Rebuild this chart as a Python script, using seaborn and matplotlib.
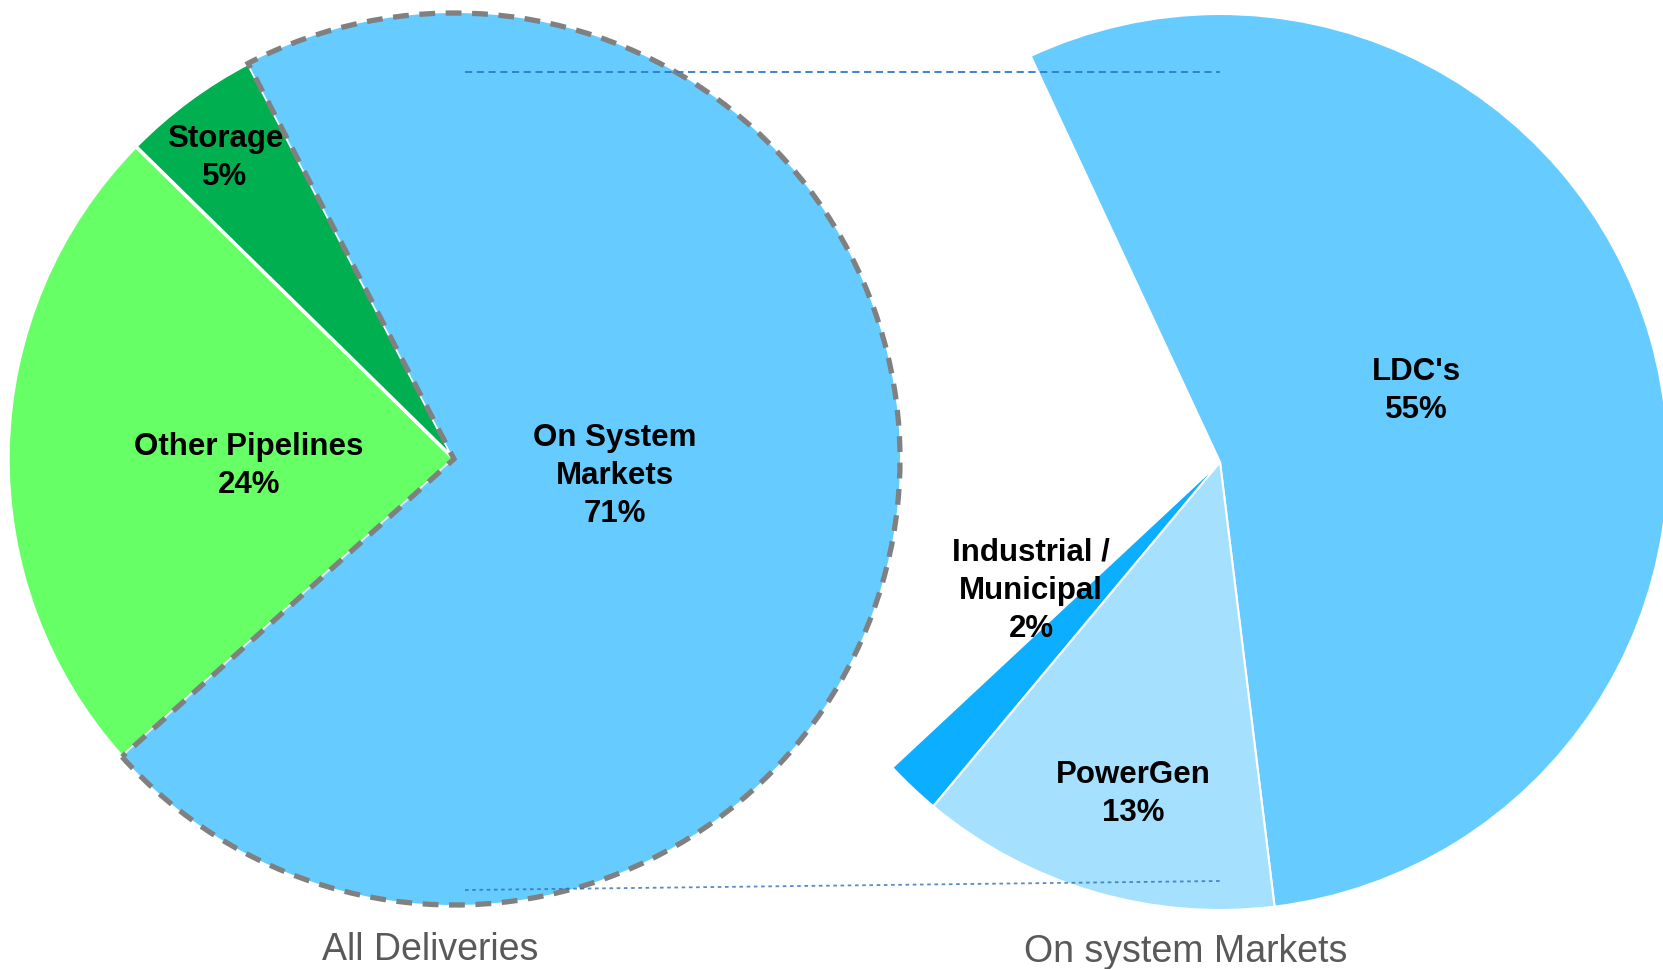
import matplotlib
matplotlib.use("Agg")
import matplotlib.pyplot as plt
import seaborn as sns

# data
all_labels = ["On System\nMarkets", "Other Pipelines", "Storage"]
all_values = [71, 24, 5]
all_colors = ["#66CCFF", "#66FF66", "#00B050"]

osm_labels = ["LDC's", "PowerGen", "Industrial /\nMunicipal", ""]
osm_values = [55, 13, 2, 30]   # last slice is the blank gap
osm_colors = ["#66CCFF", "#A6E0FF", "#0CAEFF", "none"]

titles = ["All Deliveries", "On system Markets"]

sns.set_theme(style="white")
plt.rcParams["font.family"] = ["Liberation Sans", "DejaVu Sans"]

W, H = 1663, 970
fig = plt.figure(figsize=(W / 100, H / 100), dpi=100)
ax = fig.add_axes([0, 0, 1, 1])

# centers / radii in pixel space (y up)
c1, r1 = (454, H - 460), 446
c2, r2 = (1220, H - 463), 448

w1, _ = ax.pie(all_values, colors=all_colors, startangle=117.5, counterclock=False,
               center=c1, radius=r1, frame=True,
               wedgeprops=dict(edgecolor="white", linewidth=2.5))
w1[0].set_edgecolor("#808080")
w1[0].set_linestyle((0, (3, 2)))
w1[0].set_linewidth(3.8)
w1[0].set_zorder(3)

w2, _ = ax.pie(osm_values, colors=osm_colors, startangle=115, counterclock=False,
               center=c2, radius=r2, frame=True,
               wedgeprops=dict(edgecolor="white", linewidth=1.5))
w2[-1].set_edgecolor("none")

ax.set_xlim(0, W)
ax.set_ylim(0, H)
ax.set_aspect("equal")
ax.axis("off")

# connector lines between the two pies
ax.plot([c1[0] + 11, c2[0]], [H - 73, H - 73], color="#2E7BC8", lw=1.3,
        ls=(0, (4, 2.5)), zorder=4)
ax.plot([c1[0] + 11, c2[0]], [H - 891, H - 882], color="#2E6FB8", lw=1.3,
        ls=(0, (2, 2)), alpha=0.8, zorder=4)

# slice labels
def label(x, y, name, val):
    ax.text(x, H - y, f"{name}\n{val}%", ha="center", va="center",
            fontsize=22.5, fontweight="bold", color="black",
            linespacing=1.36, zorder=5)

all_pos = [(615, 476), (249, 466), (225, 158)]
for (x, y), n, v in zip(all_pos, all_labels, all_values):
    label(x, y, n, v)

osm_pos = [(1416, 391), (1133, 794), (1031, 591)]
for (x, y), n, v in zip(osm_pos, osm_labels[:3], osm_values[:3]):
    label(x, y, n, v)

# titles below pies
ax.text(430, H - 950, titles[0], ha="center", va="center", fontsize=27,
        color="#595959")
ax.text(1186, H - 952, titles[1], ha="center", va="center", fontsize=27,
        color="#595959")

fig.savefig("out.png", dpi=100)
